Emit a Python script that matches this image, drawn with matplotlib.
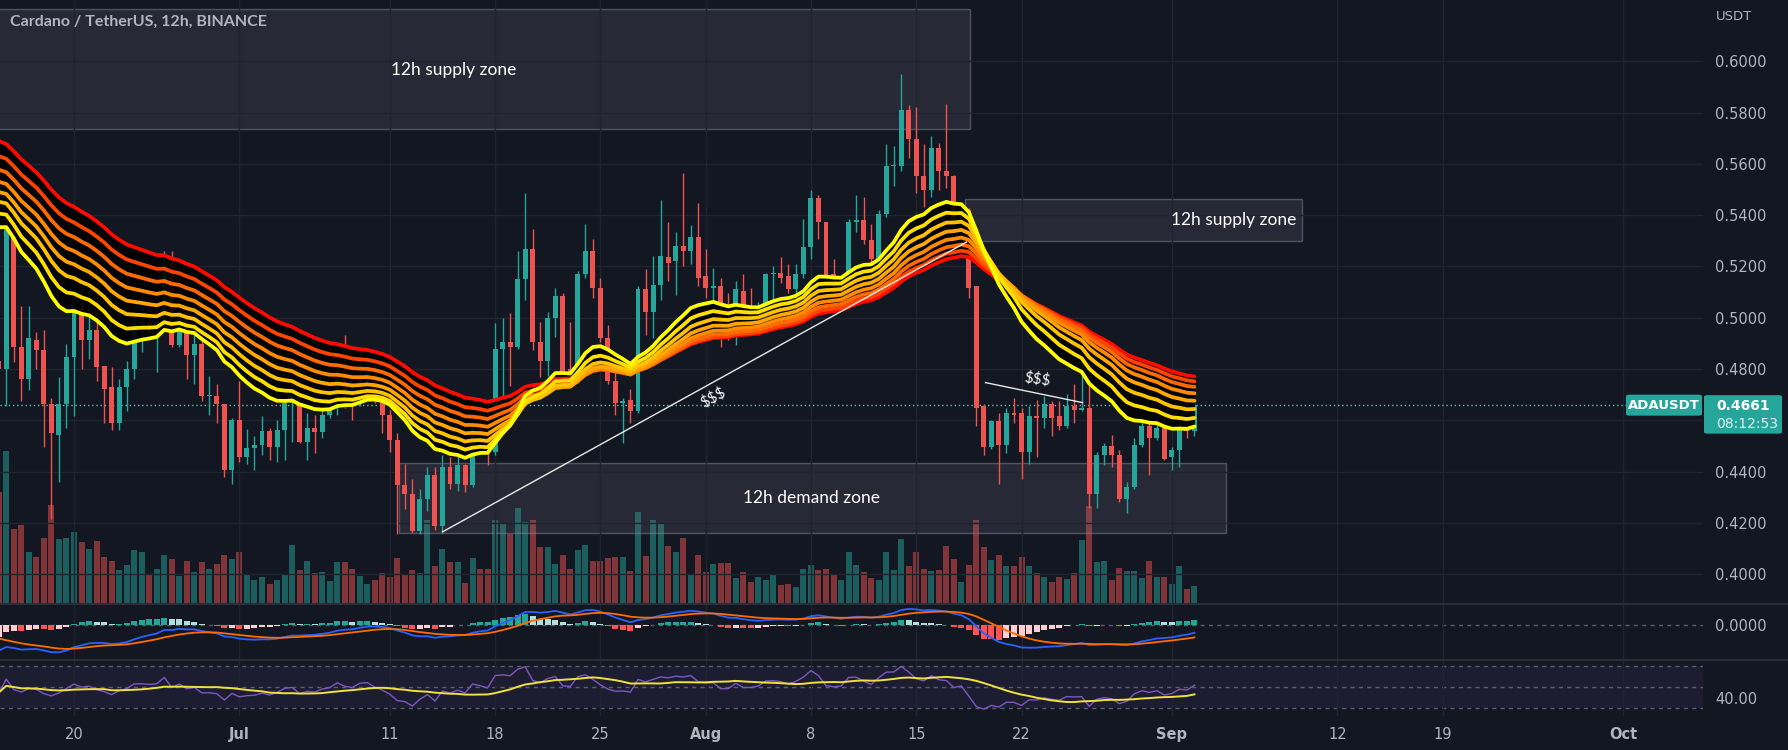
import numpy as np
import pandas as pd
import matplotlib
matplotlib.use('Agg')
from matplotlib import pyplot as plt
from matplotlib.patches import Rectangle, FancyBboxPatch

# ---- data (ADAUSDT, 12h candles from 2022-06-15 00:00) ----
opens = [0.4833, 0.4800, 0.5347, 0.4886, 0.4761, 0.4912, 0.4873, 0.4662, 0.4543, 0.4662,
         0.4846, 0.5037, 0.4912, 0.4952, 0.4813, 0.4728, 0.4589, 0.4728, 0.4800, 0.4978,
         0.4982, 0.4965, 0.4982, 0.5215, 0.4892, 0.5024, 0.4853, 0.4899, 0.4695, 0.4695,
         0.4662, 0.4405, 0.4600, 0.4458, 0.4491, 0.4504, 0.4560, 0.4497, 0.4563, 0.4668,
         0.4695, 0.4517, 0.4570, 0.4553, 0.4622, 0.4655, 0.4774, 0.4695, 0.4662, 0.4767,
         0.4780, 0.4688, 0.4622, 0.4524, 0.4346, 0.4313, 0.4168, 0.4293, 0.4385, 0.4188,
         0.4418, 0.4352, 0.4425, 0.4346, 0.4583, 0.4537, 0.4477, 0.4879, 0.4905, 0.4886,
         0.5149, 0.5268, 0.4905, 0.4833, 0.4998, 0.5083, 0.4800, 0.4767, 0.5169, 0.5261,
         0.5116, 0.4919, 0.4754, 0.4668, 0.4679, 0.4636, 0.5110, 0.5024, 0.5129, 0.5235,
         0.5221, 0.5280, 0.5260, 0.5314, 0.5162, 0.5116, 0.5123, 0.4978, 0.4965, 0.5103,
         0.5024, 0.4998, 0.4998, 0.5169, 0.5175, 0.5162, 0.5110, 0.5169, 0.5274, 0.5465,
         0.5373, 0.5169, 0.5129, 0.5136, 0.5373, 0.5380, 0.5301, 0.5228, 0.5406, 0.5590,
         0.5590, 0.5808, 0.5696, 0.5551, 0.5498, 0.5663, 0.5571, 0.5551, 0.5380, 0.5419,
         0.5123, 0.4655, 0.4497, 0.4596, 0.4504, 0.4629, 0.4629, 0.4477, 0.4616, 0.4609,
         0.4662, 0.4616, 0.4576, 0.4655, 0.4642, 0.4649, 0.4313, 0.4464, 0.4500, 0.4464,
         0.4293, 0.4339, 0.4504, 0.4576, 0.4530, 0.4570, 0.4458, 0.4484, 0.4576, 0.4557]
highs = [0.4870, 0.5393, 0.5478, 0.5044, 0.5044, 0.4945, 0.4952, 0.4688, 0.4767, 0.4899,
         0.5083, 0.5070, 0.5110, 0.5116, 0.4813, 0.4807, 0.4760, 0.4833, 0.5037, 0.5096,
         0.5077, 0.5037, 0.5260, 0.5260, 0.5077, 0.5050, 0.4945, 0.4978, 0.4774, 0.4741,
         0.4662, 0.4609, 0.4754, 0.4566, 0.4537, 0.4616, 0.4570, 0.4602, 0.4688, 0.4761,
         0.4714, 0.4629, 0.4622, 0.4649, 0.4688, 0.4827, 0.4932, 0.4734, 0.4853, 0.4833,
         0.4820, 0.4708, 0.4642, 0.4550, 0.4431, 0.4372, 0.4333, 0.4418, 0.4418, 0.4464,
         0.4458, 0.4537, 0.4431, 0.4583, 0.4649, 0.4576, 0.4978, 0.4998, 0.5017, 0.5261,
         0.5485, 0.5347, 0.4984, 0.5024, 0.5116, 0.5096, 0.4984, 0.5182, 0.5366, 0.5307,
         0.5156, 0.4971, 0.4800, 0.4688, 0.4721, 0.5123, 0.5189, 0.5241, 0.5459, 0.5373,
         0.5333, 0.5564, 0.5360, 0.5446, 0.5268, 0.5195, 0.5156, 0.5096, 0.5143, 0.5169,
         0.5116, 0.5063, 0.5175, 0.5202, 0.5235, 0.5208, 0.5208, 0.5386, 0.5498, 0.5478,
         0.5373, 0.5228, 0.5143, 0.5386, 0.5478, 0.5472, 0.5366, 0.5419, 0.5676, 0.5670,
         0.5950, 0.5828, 0.5821, 0.5676, 0.5709, 0.5683, 0.5834, 0.5557, 0.5432, 0.5426,
         0.5123, 0.4662, 0.4602, 0.4629, 0.4649, 0.4688, 0.4649, 0.4655, 0.4681, 0.4695,
         0.4675, 0.4675, 0.4701, 0.4741, 0.4820, 0.4800, 0.4477, 0.4510, 0.4543, 0.4484,
         0.4359, 0.4530, 0.4629, 0.4596, 0.4629, 0.4636, 0.4497, 0.4616, 0.4589, 0.4675]
lows = [0.4770, 0.4655, 0.4826, 0.4675, 0.4720, 0.4800, 0.4497, 0.4214, 0.4359, 0.4570,
        0.4616, 0.4800, 0.4840, 0.4754, 0.4589, 0.4563, 0.4563, 0.4635, 0.4760, 0.4866,
        0.4945, 0.4787, 0.4978, 0.4886, 0.4886, 0.4760, 0.4740, 0.4675, 0.4622, 0.4589,
        0.4379, 0.4352, 0.4438, 0.4429, 0.4405, 0.4464, 0.4445, 0.4438, 0.4445, 0.4517,
        0.4510, 0.4445, 0.4471, 0.4530, 0.4609, 0.4622, 0.4649, 0.4602, 0.4655, 0.4741,
        0.4668, 0.4550, 0.4477, 0.4155, 0.4254, 0.4161, 0.4155, 0.4247, 0.4174, 0.4165,
        0.4333, 0.4326, 0.4319, 0.4339, 0.4504, 0.4425, 0.4464, 0.4682, 0.4734, 0.4879,
        0.5070, 0.4873, 0.4767, 0.4774, 0.4925, 0.4780, 0.4754, 0.4747, 0.5156, 0.5077,
        0.4906, 0.4741, 0.4622, 0.4510, 0.4589, 0.4629, 0.4932, 0.4919, 0.5070, 0.5143,
        0.5090, 0.5202, 0.5208, 0.5123, 0.5077, 0.4998, 0.4886, 0.4912, 0.4892, 0.4985,
        0.4991, 0.4932, 0.4999, 0.5037, 0.5136, 0.5096, 0.5077, 0.5156, 0.5228, 0.5307,
        0.5149, 0.5063, 0.5030, 0.5129, 0.5333, 0.5287, 0.5208, 0.5221, 0.5393, 0.5512,
        0.5571, 0.5623, 0.5485, 0.5432, 0.5472, 0.5498, 0.5505, 0.5373, 0.5366, 0.5077,
        0.4576, 0.4464, 0.4490, 0.4353, 0.4471, 0.4589, 0.4372, 0.4431, 0.4458, 0.4570,
        0.4537, 0.4563, 0.4570, 0.4589, 0.4636, 0.4260, 0.4260, 0.4425, 0.4418, 0.4280,
        0.4240, 0.4333, 0.4497, 0.4385, 0.4524, 0.4445, 0.4405, 0.4418, 0.4530, 0.4537]
closes = [0.4800, 0.5353, 0.4886, 0.4761, 0.4919, 0.4873, 0.4662, 0.4550, 0.4662, 0.4846,
          0.5037, 0.4912, 0.4952, 0.4807, 0.4721, 0.4589, 0.4728, 0.4800, 0.4978, 0.4985,
          0.4965, 0.4982, 0.5215, 0.4892, 0.5024, 0.4853, 0.4899, 0.4695, 0.4698, 0.4662,
          0.4405, 0.4600, 0.4458, 0.4491, 0.4504, 0.4560, 0.4497, 0.4563, 0.4668, 0.4695,
          0.4517, 0.4570, 0.4553, 0.4622, 0.4655, 0.4774, 0.4695, 0.4662, 0.4767, 0.4780,
          0.4688, 0.4622, 0.4524, 0.4346, 0.4313, 0.4168, 0.4293, 0.4385, 0.4188, 0.4418,
          0.4352, 0.4425, 0.4346, 0.4583, 0.4537, 0.4477, 0.4879, 0.4905, 0.4886, 0.5149,
          0.5268, 0.4905, 0.4833, 0.4998, 0.5083, 0.4787, 0.4767, 0.5169, 0.5261, 0.5116,
          0.4919, 0.4754, 0.4668, 0.4675, 0.4636, 0.5110, 0.5024, 0.5129, 0.5241, 0.5215,
          0.5280, 0.5260, 0.5314, 0.5156, 0.5116, 0.5123, 0.4965, 0.4965, 0.5110, 0.4998,
          0.4998, 0.5037, 0.5169, 0.5175, 0.5156, 0.5110, 0.5169, 0.5274, 0.5465, 0.5373,
          0.5156, 0.5129, 0.5143, 0.5373, 0.5380, 0.5301, 0.5228, 0.5406, 0.5590, 0.5597,
          0.5808, 0.5696, 0.5551, 0.5498, 0.5663, 0.5571, 0.5551, 0.5380, 0.5419, 0.5116,
          0.4649, 0.4497, 0.4596, 0.4504, 0.4629, 0.4622, 0.4477, 0.4616, 0.4609, 0.4662,
          0.4609, 0.4576, 0.4655, 0.4642, 0.4649, 0.4313, 0.4464, 0.4500, 0.4464, 0.4293,
          0.4339, 0.4504, 0.4576, 0.4530, 0.4570, 0.4451, 0.4484, 0.4576, 0.4557, 0.4661]
# volume in millions ADA
volumes = [224, 306, 150, 158, 104, 94, 132, 198, 130, 132,
           144, 124, 110, 126, 94, 86, 68, 78, 108, 104,
           60, 70, 98, 90, 56, 86, 64, 84, 70, 80,
           98, 90, 104, 60, 48, 54, 40, 48, 58, 118,
           68, 86, 62, 64, 46, 84, 84, 70, 56, 40,
           48, 62, 54, 92, 60, 68, 62, 168, 76, 110,
           84, 84, 42, 92, 70, 70, 168, 162, 140, 192,
           164, 168, 114, 114, 80, 98, 70, 108, 118, 86,
           86, 92, 94, 94, 66, 184, 96, 168, 162, 116,
           104, 132, 58, 98, 64, 80, 82, 82, 52, 64,
           44, 54, 48, 58, 38, 40, 34, 70, 78, 68,
           70, 60, 48, 104, 78, 64, 52, 48, 104, 68,
           130, 76, 104, 70, 66, 68, 116, 90, 44, 78,
           168, 114, 88, 98, 76, 76, 94, 76, 62, 54,
           44, 54, 50, 62, 128, 196, 84, 86, 48, 72,
           66, 66, 52, 86, 54, 54, 40, 76, 30, 36]

start = pd.Timestamp('2022-06-15 00:00')
tick_dates = ['2022-06-20', '2022-07-01', '2022-07-11', '2022-07-18', '2022-07-25', '2022-08-01',
              '2022-08-08', '2022-08-15', '2022-08-22', '2022-09-01', '2022-09-12', '2022-09-19',
              '2022-10-01']
tick_labels = ['20', 'Jul', '11', '18', '25', 'Aug', '8', '15', '22', 'Sep', '12', '19', 'Oct']
price_ticks = [0.40, 0.42, 0.44, 0.46, 0.48, 0.50, 0.52, 0.54, 0.56, 0.58, 0.60]

# EMA ribbon: lengths, value of each line at the first bar, colours (slow -> fast)
ribbon_len = [55, 50, 45, 40, 35, 30, 25, 20]
ribbon_start = [0.5689, 0.5630, 0.5577, 0.5530, 0.5490, 0.5452, 0.5406, 0.5353]
ribbon_col = ['#ff0a00', '#ff4400', '#ff6a00', '#ff8a00', '#ffa600', '#ffc200', '#ffdf00', '#ffff00']
# MACD(12,26,9) and RSI(14) state at the first bar
macd_start = {'fast': 0.5160, 'slow': 0.5397, 'signal': -0.0125}
rsi_start = {'gain': 0.0065, 'loss': 0.0080}

# zones (bar index from, bar index to, price low, price high)
supply_top = (-5, 129.1, 0.5734, 0.6202)
supply_mid = (128.5, 173.3, 0.5300, 0.5462)
demand = (53.2, 163.2, 0.4161, 0.4434)
trend_line = ([59.0, 128.7], [0.4165, 0.5295])
liq_line = ([131.2, 144.1], [0.4747, 0.4669])

o = np.array(opens); h = np.array(highs); l = np.array(lows); c = np.array(closes)
v = np.array(volumes)
n = len(c)
idx = np.arange(n)
ticks = [(pd.Timestamp(d) - start) / pd.Timedelta('12h') for d in tick_dates]


def ema(values, length, seed):
    a = 2.0 / (length + 1)
    out = np.zeros(len(values))
    out[0] = seed
    for i in range(1, len(values)):
        out[i] = a * values[i] + (1 - a) * out[i - 1]
    return out


ribbons = [ema(c, L, s) for L, s in zip(ribbon_len, ribbon_start)]

ema_fast = ema(c, 12, macd_start['fast'])
ema_slow = ema(c, 26, macd_start['slow'])
macd = ema_fast - ema_slow
signal = ema(macd, 9, macd_start['signal'])
hist = macd - signal

ag, al = rsi_start['gain'], rsi_start['loss']
rsi = np.zeros(n)
rsi[0] = 100 - 100 / (1 + ag / al)
for i in range(1, n):
    d = c[i] - c[i - 1]
    ag = (ag * 13 + max(d, 0)) / 14
    al = (al * 13 + max(-d, 0)) / 14
    rsi[i] = 100 - 100 / (1 + ag / al)
rsi_ma = pd.Series(rsi).rolling(14, min_periods=1).mean().values

# ---- figure ----
W, H = 1788, 750
BG = '#131722'
GRID = '#20242f'
TXT = '#b2b5be'
UP, DN = '#26a69a', '#ef5350'
PLOT_R = 1703

fig = plt.figure(figsize=(W / 100, H / 100), dpi=100, facecolor=BG)


def px_axes(x0, y0, x1, y1):
    return fig.add_axes([x0 / W, 1 - y1 / H, (x1 - x0) / W, (y1 - y0) / H])


xlim = (1.2 / 7.52, (PLOT_R + 1.2) / 7.52)
ylim = (0.6 - (604 - 61.2) / 2565, 0.6 + 61.2 / 2565)
last = c[-1]

ax_v = px_axes(0, 0, PLOT_R, 604)
ax = px_axes(0, 0, PLOT_R, 604)
ax_m = px_axes(0, 604, PLOT_R, 660)
ax_r = px_axes(0, 660, PLOT_R, 716)

for a in (ax_v, ax, ax_m, ax_r):
    a.set_facecolor(BG)
    for s in a.spines.values():
        s.set_visible(False)
    a.set_xlim(*xlim)
ax_v.set_zorder(0)
ax.set_zorder(1)
ax.patch.set_visible(False)
ax_v.set_xticks([]); ax_v.set_yticks([])

# volume
up = c >= o
vol_col = np.where(up, UP, DN)
ax_v.bar(idx, v, width=0.8, color=vol_col, alpha=0.5, linewidth=0)
ax_v.set_ylim(0, 604 * 2)

# grid + price scale (the tick hidden behind the last-price box gets no label)
ax.set_ylim(*ylim)
ax.set_yticks(price_ticks)
ax.set_yticklabels(['' if last - 0.012 < p < last else '%.4f' % p for p in price_ticks])
ax.yaxis.tick_right()
ax.tick_params(axis='y', length=0, pad=9, labelcolor=TXT, labelsize=10.5)
ax.set_xticks(ticks)
ax.tick_params(axis='x', length=0, labelbottom=False)
ax.grid(True, color=GRID, lw=1, zorder=0)

# zones
for (x0, x1, p0, p1) in (supply_top, supply_mid, demand):
    ax.add_patch(Rectangle((x0, p0), x1 - x0, p1 - p0, facecolor=(0.47, 0.48, 0.53, 0.2),
                           edgecolor=(0.55, 0.57, 0.62, 0.45), lw=1, zorder=1.5))
ax.text(60.5, 0.5966, '12h supply zone', color='white',
        fontsize=12.5, family='Lato', ha='center', va='center', zorder=6)
ax.text(supply_mid[1] - 0.8, (supply_mid[2] + supply_mid[3]) / 2, '12h supply zone', color='white',
        fontsize=12.5, family='Lato', ha='right', va='center', zorder=6)
ax.text(108.1, 0.4297, '12h demand zone', color='white', fontsize=12.5, family='Lato',
        ha='center', va='center', zorder=6)

# candles
col = np.where(up, UP, DN)
ax.vlines(idx, l, h, colors=col, lw=1, zorder=3)
body = np.maximum(np.abs(c - o), 0.0004)
ax.bar(idx, body, bottom=np.minimum(o, c), width=0.66, color=col, linewidth=0, zorder=3)

# EMA ribbon
lo = np.min(ribbons, axis=0)
hi = np.max(ribbons, axis=0)
ax.fill_between(idx, lo, hi, color='black', alpha=0.9, lw=0, zorder=3.5)
for r, cc in zip(ribbons, ribbon_col):
    ax.plot(idx, r, color=cc, lw=2.7, solid_capstyle='round', zorder=4)

# drawings
ax.plot(*trend_line, color='white', lw=1, alpha=0.9, zorder=5)
ax.plot(*liq_line, color='white', lw=1, alpha=0.9, zorder=5)
ax.text(95.0, 0.4688, '$$$', color='white', fontsize=11, family='Lato', rotation=29,
        ha='center', va='center', zorder=6)
ax.text(138.1, 0.4760, '$$$', color='white', fontsize=11, family='Lato', rotation=-8,
        ha='center', va='center', zorder=6)

# last price line
ax.axhline(last, color='#6fb8b2', lw=1, ls=(0, (1, 2)), zorder=2)

# MACD pane
s = -macd[125:].min() / 22.7
ax_m.set_ylim(-35 * s, 21 * s)
hcol = []
for i in range(n):
    prev = hist[i - 1] if i > 0 else hist[i]
    if hist[i] >= 0:
        hcol.append('#26a69a' if hist[i] >= prev else '#b2dfdb')
    else:
        hcol.append('#ff5252' if hist[i] < prev else '#ffcdd2')
ax_m.bar(idx, hist, width=0.8, color=hcol, linewidth=0, zorder=2)
ax_m.plot(idx, macd, color='#2962ff', lw=1.3, zorder=3)
ax_m.plot(idx, signal, color='#ff6d00', lw=1.3, zorder=3)
ax_m.axhline(0, color='#787b86', lw=1, ls=(0, (3, 3)), alpha=0.7, zorder=1)
ax_m.set_yticks([0])
ax_m.set_yticklabels(['0.0000'])
ax_m.yaxis.tick_right()
ax_m.tick_params(axis='y', length=0, pad=9, labelcolor=TXT, labelsize=10.5)
ax_m.set_xticks(ticks)
ax_m.tick_params(axis='x', length=0, labelbottom=False)
ax_m.grid(True, axis='x', color=GRID, lw=1, zorder=0)

# RSI pane
ax_r.set_ylim(30 - 7.7 / 1.065, 70 + 5.7 / 1.065)
ax_r.axhspan(30, 70, color='#7e57c2', alpha=0.1, lw=0, zorder=0)
for lev in (70, 50, 30):
    ax_r.axhline(lev, color='#787b86', lw=1, ls=(0, (3, 3)), alpha=0.7, zorder=1)
ax_r.plot(idx, rsi, color='#7e57c2', lw=1, zorder=3)
ax_r.plot(idx, rsi_ma, color='#f0e23c', lw=1.4, zorder=3)
ax_r.set_yticks([40])
ax_r.set_yticklabels(['40.00'])
ax_r.yaxis.tick_right()
ax_r.tick_params(axis='y', length=0, pad=9, labelcolor=TXT, labelsize=10.5)
ax_r.set_xticks(ticks)
ax_r.set_xticklabels(tick_labels)
ax_r.tick_params(axis='x', length=0, pad=8, labelcolor=TXT, labelsize=10.5)
for lab in ax_r.get_xticklabels():
    if lab.get_text() in ('Jul', 'Aug', 'Sep', 'Oct'):
        lab.set_fontweight('bold')
ax_r.grid(True, axis='x', color=GRID, lw=1, zorder=0)

# pane separators
for y in (604, 660):
    fig.add_artist(plt.Line2D([0, 1], [1 - y / H, 1 - y / H], color='#2a2e39', lw=1.5,
                              transform=fig.transFigure))

# title and axis caption
fig.text(10 / W, 1 - 22 / H, 'Cardano / TetherUS, 12h, BINANCE', color=TXT, fontsize=11.5,
         family='Lato', fontweight='bold', va='center', ha='left')
fig.text(1716 / W, 1 - 17 / H, 'USDT', color=TXT, fontsize=9.5, va='center', ha='left')

# last price labels on the scale
y_line = H - ax.transData.transform((0, last))[1]
fig.add_artist(FancyBboxPatch((1626 / W, 1 - (y_line + 11) / H), 76 / W, 21 / H,
                              boxstyle='round,pad=0,rounding_size=0.002', transform=fig.transFigure,
                              facecolor=UP, edgecolor='none', zorder=20))
fig.text(1664 / W, 1 - (y_line + 0.5) / H, 'ADAUSDT', color='white', fontsize=9.5,
         fontweight='bold', ha='center', va='center', zorder=21)
fig.add_artist(FancyBboxPatch((1704 / W, 1 - (y_line + 29) / H), 78 / W, 38.5 / H,
                              boxstyle='round,pad=0,rounding_size=0.002', transform=fig.transFigure,
                              facecolor=UP, edgecolor='none', zorder=20))
fig.text(1716 / W, 1 - (y_line + 1) / H, '%.4f' % last, color='white', fontsize=10,
         fontweight='bold', ha='left', va='center', zorder=21)
fig.text(1716 / W, 1 - (y_line + 19) / H, '08:12:53', color='#e0f2f1', fontsize=10,
         ha='left', va='center', zorder=21)

fig.savefig('out.png', dpi=100, facecolor=BG)
